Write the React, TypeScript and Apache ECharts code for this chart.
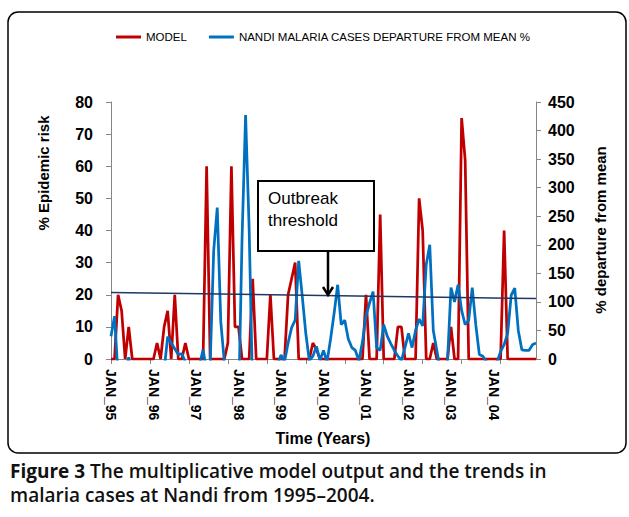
import React, { useEffect, useRef } from "react";
import * as echarts from "echarts";

const years = ["95", "96", "97", "98", "99", "00", "01", "02", "03", "04", "05"];
const months = ["JAN", "FEB", "MAR", "APR", "MAY", "JUN", "JUL", "AUG", "SEP", "OCT", "NOV", "DEC"];
const tickLabels = ["JAN_95", "JAN_96", "JAN_97", "JAN_98", "JAN_99", "JAN_00", "JAN_01", "JAN_02", "JAN_03", "JAN_04"];

// % Epidemic risk (left axis)
const modelRisk = [
  0, 0, 20, 15, 0, 10, 0, 0, 0, 0, 0, 0, 0, 5, 0, 10, 15, 0, 20, 0,
  0, 5, 0, 0, 0, 0, 0, 60, 0, 0, 0, 0, 0, 5, 60, 10, 10, 0, 0, 0,
  25, 0, 0, 0, 0, 20, 0, 0, 0, 0, 20, 25, 30, 0, 0, 0, 0, 5, 3, 0,
  0, 0, 0, 0, 0, 0, 0, 0, 0, 0, 0, 0, 20, 0, 0, 0, 45, 0, 0, 0,
  0, 10, 10, 0, 0, 0, 0, 50, 40, 0, 0, 5, 0, 0, 0, 0, 10, 0, 0, 75,
  62, 0, 0, 0, 0, 0, 0, 0, 0, 0, 0, 40, 0, 0, 0, 0, 0, 0, 0, 0, 0,
];

// Nandi malaria cases, % departure from mean (right axis)
const nandiDeparture = [
  40, 75, -30, -40, -20, 3, -30, -50, -50, -60, -60, -50, -50, -40, -30, -20, 39, 28, 18, 8,
  9, -5, -30, -40, -30, -10, 16, -20, -10, 190, 265, 65, -5, -40, -60, -70, -90, 210, 427, 230,
  -60, -60, -60, -50, -40, -40, -30, -10, 7, -5, 28, 55, 68, 172, 110, 45, -3, 5, 22, -2,
  15, -5, 35, 80, 130, 60, 68, 35, 20, 15, -3, 30, 75, 98, 118, 20, 15, 60, 40, 27,
  15, 5, -3, 20, 45, 20, 50, 70, 58, 165, 200, 50, 15, -20, -30, -5, 125, 100, 130, 85,
  60, 68, 125, 60, 8, 5, -5, -20, -20, -5, 13, 25, 45, 112, 124, 50, 16, 15, 15, 25, 28,
];

// Outbreak threshold trend line (left axis), start and end
const thresholdStart = 20.7;
const thresholdEnd = 18.8;

const categories: string[] = [];
for (let y = 0; y < years.length && categories.length < modelRisk.length; y++) {
  for (let m = 0; m < 12 && categories.length < modelRisk.length; m++) {
    categories.push(months[m] + "_" + years[y]);
  }
}

const FONT = "'Liberation Sans', Arial, sans-serif";
const CAPTION_FONT = "'Open Sans', 'Liberation Sans', sans-serif";
const AXIS = "#868686";

export default function App() {
  const ref = useRef<HTMLDivElement>(null);
  useEffect(() => {
    if (!ref.current) return;
    const chart = echarts.init(ref.current, null, { renderer: "svg" });
    const last = categories.length - 1;
    chart.setOption({
      animation: false,
      backgroundColor: "#fff",
      textStyle: { fontFamily: FONT },
      legend: {
        data: ["MODEL", "NANDI MALARIA CASES DEPARTURE FROM MEAN %"],
        left: 111,
        top: 26,
        icon: "rect",
        itemWidth: 25,
        itemHeight: 3,
        itemGap: 22,
        textStyle: { fontSize: 11.5, color: "#000", fontFamily: FONT },
      },
      grid: { left: 111, top: 102, width: 425, height: 257, containLabel: false },
      xAxis: {
        type: "category",
        data: categories,
        boundaryGap: false,
        axisLine: { lineStyle: { color: AXIS, width: 1 } },
        axisTick: { show: true, interval: 10, length: 5, lineStyle: { color: AXIS } },
        axisLabel: {
          interval: (idx: number, val: string) => tickLabels.includes(val),
          rotate: -90,
          margin: 10,
          fontSize: 14,
          fontWeight: "bold",
          color: "#000",
          fontFamily: FONT,
        },
        splitLine: { show: false },
      },
      yAxis: [
        {
          type: "value",
          min: 0,
          max: 80,
          interval: 10,
          axisLine: { show: true, lineStyle: { color: AXIS } },
          axisTick: { show: true, length: 5, lineStyle: { color: AXIS } },
          axisLabel: { margin: 18, fontSize: 16, fontWeight: "bold", color: "#000", fontFamily: FONT },
          splitLine: { show: false },
        },
        {
          type: "value",
          min: 0,
          max: 450,
          interval: 50,
          position: "right",
          axisLine: { show: true, lineStyle: { color: AXIS } },
          axisTick: { show: true, length: 5, lineStyle: { color: AXIS } },
          axisLabel: { margin: 12, fontSize: 16, fontWeight: "bold", color: "#000", fontFamily: FONT },
          splitLine: { show: false },
        },
      ],
      series: [
        {
          name: "MODEL",
          type: "line",
          yAxisIndex: 0,
          data: modelRisk,
          symbol: "none",
          color: "#C00000",
          lineStyle: { width: 2.75, color: "#C00000" },
        },
        {
          name: "NANDI MALARIA CASES DEPARTURE FROM MEAN %",
          type: "line",
          yAxisIndex: 1,
          data: nandiDeparture,
          symbol: "none",
          color: "#0070C0",
          lineStyle: { width: 2.75, color: "#0070C0" },
          clip: true,
        },
        {
          name: "Threshold",
          type: "line",
          yAxisIndex: 0,
          data: [
            [0, thresholdStart],
            [last, thresholdEnd],
          ],
          symbol: "none",
          color: "#1F3864",
          lineStyle: { width: 1.5, color: "#1F3864" },
        },
      ],
      graphic: [
        {
          type: "rect",
          shape: { x: 8, y: 12, width: 618, height: 441, r: 10 },
          style: { fill: "none", stroke: "#000", lineWidth: 1.5 },
          z: -1,
        },
        {
          type: "text",
          x: 43,
          y: 173,
          rotation: Math.PI / 2,
          style: {
            text: "% Epidemic risk",
            fontSize: 15,
            fontWeight: "bold",
            fontFamily: FONT,
            fill: "#000",
            align: "center",
            verticalAlign: "middle",
          },
        },
        {
          type: "text",
          x: 600,
          y: 230,
          rotation: Math.PI / 2,
          style: {
            text: "% departure from mean",
            fontSize: 15,
            fontWeight: "bold",
            fontFamily: FONT,
            fill: "#000",
            align: "center",
            verticalAlign: "middle",
          },
        },
        {
          type: "text",
          x: 323,
          y: 438,
          style: {
            text: "Time (Years)",
            fontSize: 16,
            fontWeight: "bold",
            fontFamily: FONT,
            fill: "#000",
            align: "center",
            verticalAlign: "middle",
          },
        },
        {
          type: "rect",
          shape: { x: 258, y: 181, width: 116, height: 70 },
          style: { fill: "#fff", stroke: "#000", lineWidth: 2 },
          z: 100,
        },
        {
          type: "text",
          x: 268,
          y: 198,
          z: 101,
          style: { text: "Outbreak", fontSize: 17, fontFamily: FONT, fill: "#000", align: "left", verticalAlign: "middle" },
        },
        {
          type: "text",
          x: 268,
          y: 220,
          z: 101,
          style: { text: "threshold", fontSize: 17, fontFamily: FONT, fill: "#000", align: "left", verticalAlign: "middle" },
        },
        {
          type: "line",
          z: 101,
          shape: { x1: 328, y1: 251, x2: 328, y2: 294 },
          style: { stroke: "#000", lineWidth: 2.5 },
        },
        {
          type: "polyline",
          z: 101,
          shape: { points: [[323, 287], [328, 295], [333, 287]] },
          style: { stroke: "#000", lineWidth: 2.5, fill: "none" },
        },
        {
          type: "text",
          x: 10,
          y: 471,
          style: {
            text: "{b|Figure 3} The multiplicative model output and the trends in",
            fontSize: 19,
            fontWeight: 600,
            fontFamily: CAPTION_FONT,
            fill: "#111",
            align: "left",
            verticalAlign: "middle",
            rich: { b: { fontSize: 19, fontWeight: "bold", fontFamily: CAPTION_FONT, fill: "#111" } },
          },
        },
        {
          type: "text",
          x: 10,
          y: 495,
          style: {
            text: "malaria cases at Nandi from 1995\u20132004.",
            fontSize: 19,
            fontWeight: 600,
            fontFamily: CAPTION_FONT,
            fill: "#111",
            align: "left",
            verticalAlign: "middle",
          },
        },
      ],
    });
    return () => chart.dispose();
  }, []);
  return <div ref={ref} style={{ width: 629, height: 517, position: "absolute", left: 0, top: 0 }} />;
}
